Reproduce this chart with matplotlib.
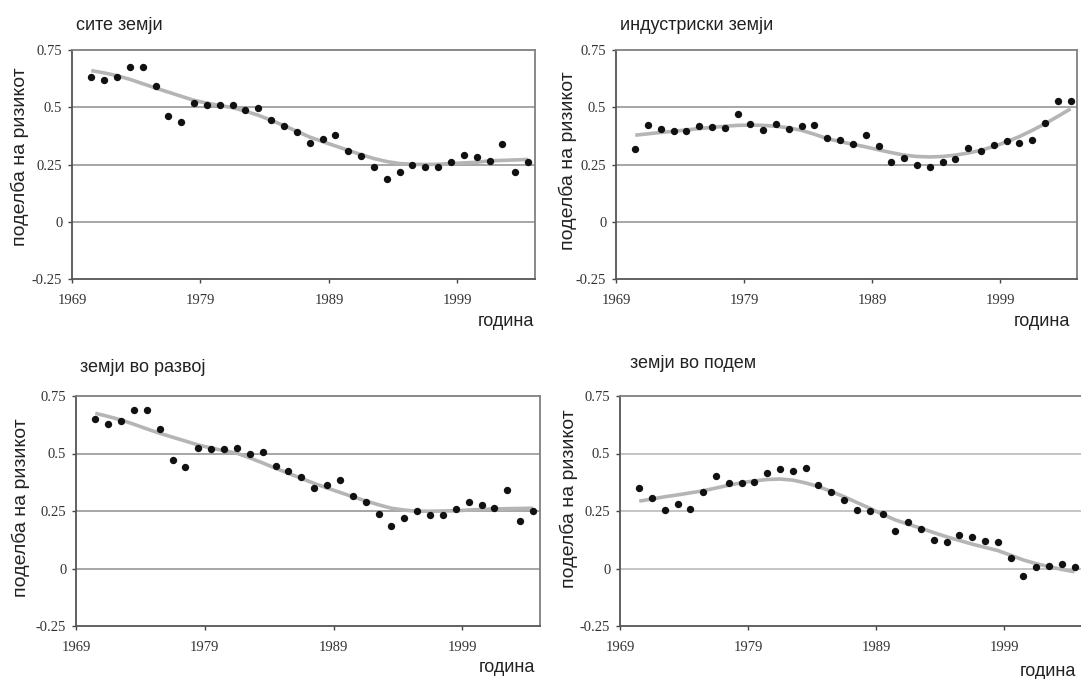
import numpy as np
import matplotlib
matplotlib.use("Agg")
import matplotlib.pyplot as plt

# --- data ---
years = list(range(1970, 2005))

all_pts = [0.634, 0.617, 0.630, 0.675, 0.675, 0.591, 0.463, 0.434, 0.518, 0.511,
           0.508, 0.511, 0.489, 0.495, 0.443, 0.417, 0.391, 0.346, 0.363, 0.378,
           0.311, 0.289, 0.237, 0.185, 0.218, 0.247, 0.237, 0.237, 0.260, 0.291,
           0.282, 0.264, 0.341, 0.217, 0.259]
all_trend = [0.660, 0.650, 0.638, 0.622, 0.603, 0.584, 0.566, 0.548, 0.530, 0.518,
             0.508, 0.498, 0.483, 0.465, 0.443, 0.420, 0.395, 0.370, 0.350, 0.331,
             0.312, 0.293, 0.276, 0.263, 0.254, 0.251, 0.250, 0.251, 0.254, 0.257,
             0.260, 0.266, 0.268, 0.270, 0.272]

ind_pts = [0.317, 0.424, 0.405, 0.396, 0.395, 0.417, 0.414, 0.409, 0.470, 0.428,
           0.399, 0.425, 0.404, 0.418, 0.422, 0.364, 0.359, 0.341, 0.379, 0.331,
           0.263, 0.278, 0.247, 0.240, 0.259, 0.275, 0.321, 0.307, 0.334, 0.353,
           0.343, 0.356, 0.431, 0.527, 0.527]
ind_trend = [0.378, 0.384, 0.390, 0.395, 0.401, 0.407, 0.412, 0.417, 0.421, 0.422,
             0.421, 0.417, 0.410, 0.399, 0.382, 0.363, 0.350, 0.338, 0.327, 0.314,
             0.302, 0.291, 0.285, 0.283, 0.285, 0.291, 0.300, 0.312, 0.329, 0.349,
             0.372, 0.399, 0.428, 0.460, 0.493]

dev_pts = [0.651, 0.627, 0.641, 0.689, 0.689, 0.605, 0.472, 0.440, 0.525, 0.521,
           0.520, 0.522, 0.499, 0.505, 0.447, 0.424, 0.396, 0.349, 0.363, 0.385,
           0.317, 0.291, 0.238, 0.185, 0.218, 0.249, 0.233, 0.233, 0.257, 0.289,
           0.278, 0.262, 0.340, 0.207, 0.250]
dev_trend = [0.675, 0.661, 0.646, 0.627, 0.607, 0.588, 0.571, 0.554, 0.537, 0.524,
             0.512, 0.501, 0.481, 0.459, 0.436, 0.414, 0.392, 0.370, 0.350, 0.331,
             0.312, 0.294, 0.277, 0.262, 0.254, 0.249, 0.249, 0.250, 0.251, 0.254,
             0.257, 0.259, 0.260, 0.261, 0.262]

emg_pts = [0.351, 0.308, 0.253, 0.280, 0.260, 0.334, 0.401, 0.373, 0.373, 0.378,
           0.417, 0.434, 0.424, 0.438, 0.363, 0.331, 0.298, 0.254, 0.249, 0.238,
           0.163, 0.201, 0.173, 0.124, 0.117, 0.147, 0.138, 0.121, 0.117, 0.046,
           -0.034, 0.006, 0.011, 0.018, 0.008]
emg_trend = [0.293, 0.302, 0.312, 0.320, 0.329, 0.338, 0.350, 0.362, 0.373, 0.381,
             0.387, 0.389, 0.384, 0.372, 0.356, 0.335, 0.312, 0.287, 0.262, 0.236,
             0.211, 0.193, 0.175, 0.156, 0.138, 0.122, 0.106, 0.092, 0.078, 0.058,
             0.037, 0.021, 0.008, -0.004, -0.014]

titles = ["сите земји", "индустриски земји", "земји во развој", "земји во подем"]
ylabel = "поделба на ризикот"
xlabel = "година"
xticks = [1969, 1979, 1989, 1999]
yticks = [-0.25, 0, 0.25, 0.5, 0.75]
ytick_labels = ["-0.25", "0", "0.25", "0.5", "0.75"]

W, H = 1081, 679
fig = plt.figure(figsize=(W / 100, H / 100), dpi=100)
plt.rcParams["font.family"] = ["Liberation Sans", "DejaVu Sans"]


def add_ax(left, top, right, bottom):
    return fig.add_axes([left / W, 1 - bottom / H, (right - left) / W, (bottom - top) / H])


def ftext(x, y, s, **kw):
    fig.text(x / W, 1 - y / H, s, **kw)


# pixel boxes, title pos, ylabel pos, xlabel pos
panels = [
    ((72, 50, 534.5, 279), (76, 25), (20, 157), (534, 322), all_pts, all_trend, "#a6a6a6"),
    ((616, 50, 1077, 279), (620, 25), (567.5, 161), (1070, 322), ind_pts, ind_trend, "#a6a6a6"),
    ((76, 396, 539.5, 626), (80, 367), (21, 508), (535.5, 667), dev_pts, dev_trend, "#a6a6a6"),
    ((620, 396, 1081, 626), (630, 364), (569, 499), (1076, 671), emg_pts, emg_trend, "#c4c4c4"),
]

x = np.array(years) + 0.5  # points sit in the middle of each year's category

for i, (box, tpos, ypos, xpos, pts, trend, gcol) in enumerate(panels):
    ax = add_ax(*box)
    ax.set_xlim(1969, 2005)
    ax.set_ylim(-0.25, 0.75)

    for g in [0, 0.25, 0.5]:
        ax.axhline(g, color=gcol, linewidth=1.4, zorder=1)

    ax.plot(x, trend, color="#b5b5b5", linewidth=2.6, zorder=2, solid_capstyle="butt")
    ax.scatter(x, pts, s=28, color="#111111", zorder=3, linewidths=0)

    ax.set_xticks(xticks)
    ax.set_xticklabels([str(t) for t in xticks])
    ax.set_yticks(yticks)
    ax.set_yticklabels(ytick_labels)
    for lab in ax.get_xticklabels() + ax.get_yticklabels():
        lab.set_family(["Liberation Serif", "DejaVu Serif"])
        lab.set_fontsize(10.5)
        lab.set_color("#333333")
    ax.tick_params(axis="x", length=3, width=1.0, pad=8, color="#444444")
    ax.tick_params(axis="y", length=3, width=1.0, pad=4, color="#444444")

    for side in ["left", "bottom"]:
        ax.spines[side].set_color("#555555")
        ax.spines[side].set_linewidth(1.3)
    for side in ["top", "right"]:
        ax.spines[side].set_color("#808080")
        ax.spines[side].set_linewidth(1.3)
    if i == 3:
        ax.spines["right"].set_visible(False)

    ftext(tpos[0], tpos[1], titles[i], fontsize=13, ha="left", va="center", color="#222222")
    ftext(ypos[0], ypos[1], ylabel, fontsize=14, rotation=90, ha="center", va="center",
          color="#222222")
    ftext(xpos[0], xpos[1], xlabel, fontsize=13, ha="right", va="center", color="#222222")

fig.savefig("out.png", dpi=100)
